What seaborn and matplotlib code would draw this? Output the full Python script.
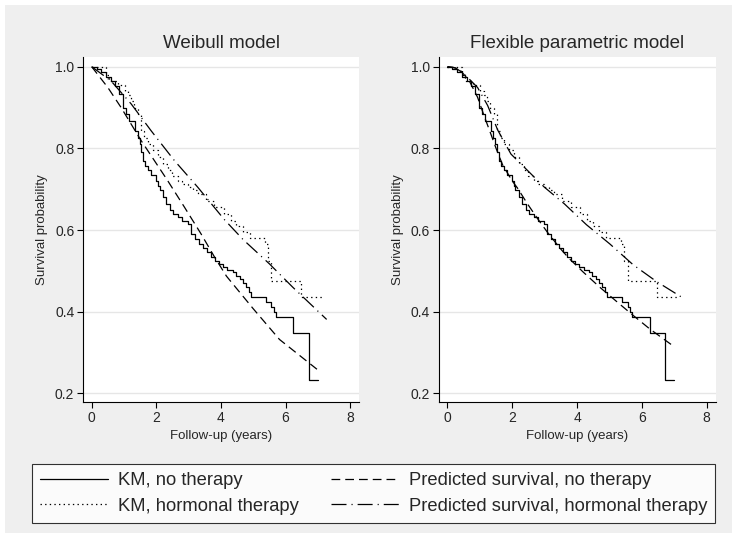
import numpy as np
import pandas as pd
import matplotlib
matplotlib.use('Agg')
import matplotlib.pyplot as plt
from matplotlib.lines import Line2D
from matplotlib.patches import Rectangle
import seaborn as sns

# Kaplan-Meier estimates (step functions)
km_none_t = [0, 0.15, 0.30, 0.45, 0.60, 0.72, 0.86, 0.97, 1.07, 1.17, 1.33, 1.42, 1.48, 1.53,
             1.58, 1.66, 1.74, 1.85, 1.99, 2.05, 2.10, 2.20, 2.30, 2.41, 2.52, 2.66, 2.80, 2.97,
             3.07, 3.20, 3.33, 3.45, 3.57, 3.69, 3.82, 3.94, 4.06, 4.20, 4.37, 4.47, 4.58, 4.68,
             4.78, 4.86, 4.94, 5.40, 5.56, 5.64, 5.71, 6.24, 6.71, 7.0]
km_none_s = [1.0, 0.995, 0.986, 0.975, 0.966, 0.952, 0.933, 0.90, 0.884, 0.868, 0.843, 0.825,
             0.811, 0.79, 0.77, 0.757, 0.746, 0.735, 0.721, 0.708, 0.697, 0.68, 0.664, 0.648,
             0.64, 0.631, 0.623, 0.615, 0.59, 0.578, 0.566, 0.555, 0.545, 0.534, 0.523, 0.516,
             0.509, 0.503, 0.497, 0.488, 0.48, 0.47, 0.46, 0.448, 0.436, 0.424, 0.411, 0.399,
             0.387, 0.348, 0.232, 0.232]

km_horm_t = [0, 0.45, 0.55, 0.80, 1.02, 1.12, 1.22, 1.32, 1.43, 1.53, 1.63, 1.74, 1.90, 2.05,
             2.20, 2.35, 2.50, 2.66, 2.80, 2.97, 3.13, 3.28, 3.55, 3.80, 4.10, 4.30, 4.48, 4.68,
             4.89, 5.35, 5.45, 5.56, 6.48, 7.12]
km_horm_s = [1.0, 0.98, 0.966, 0.955, 0.941, 0.93, 0.917, 0.90, 0.884, 0.843, 0.825, 0.811,
             0.795, 0.778, 0.762, 0.746, 0.733, 0.721, 0.713, 0.705, 0.697, 0.689, 0.672, 0.656,
             0.64, 0.623, 0.611, 0.595, 0.581, 0.566, 0.525, 0.475, 0.437, 0.437]

# Weibull model predictions
wb_none_t = [0, 0.5, 0.91, 1.53, 1.94, 2.35, 2.87, 3.38, 3.8, 4.17, 4.99, 5.81, 6.97]
wb_none_s = [1.0, 0.949, 0.90, 0.819, 0.77, 0.721, 0.656, 0.591, 0.534, 0.487, 0.408, 0.332, 0.259]
wb_horm_t = [0, 0.6, 1.22, 1.84, 2.56, 3.28, 4.1, 4.68, 5.5, 6.22, 7.27]
wb_horm_s = [1.0, 0.965, 0.909, 0.843, 0.77, 0.705, 0.626, 0.577, 0.517, 0.46, 0.381]

# Flexible parametric model predictions
fpm_none_t = [0, 0.2, 0.41, 0.67, 0.93, 1.13, 1.34, 1.5, 1.7, 2.0, 2.16, 2.47, 2.78, 3.09,
              3.5, 3.76, 4.19, 4.7, 5.22, 5.73, 6.24, 7.02]
fpm_none_s = [1.0, 0.998, 0.99, 0.966, 0.925, 0.88, 0.835, 0.80, 0.76, 0.72, 0.703, 0.664,
              0.628, 0.594, 0.553, 0.53, 0.497, 0.46, 0.425, 0.391, 0.358, 0.313]
fpm_horm_t = [0, 0.25, 0.52, 0.93, 1.24, 1.55, 1.96, 2.47, 2.99, 3.61, 4.29, 5.01, 5.73, 6.45, 7.3]
fpm_horm_s = [1.0, 0.997, 0.982, 0.949, 0.905, 0.845, 0.786, 0.746, 0.705, 0.664, 0.613,
              0.566, 0.515, 0.474, 0.432]

titles = ['Weibull model', 'Flexible parametric model']
legend_labels = ['KM, no therapy', 'KM, hormonal therapy',
                 'Predicted survival, no therapy', 'Predicted survival, hormonal therapy']

sns.set_theme(style='white')
plt.rcParams['font.family'] = ['Liberation Sans', 'DejaVu Sans']

ls_solid = '-'
ls_dot = (0, (1.1, 2.6))
ls_dash = (0, (7, 4))
ls_dashdot = (0, (12, 4, 0.9, 4))
lw = 0.9

fig = plt.figure(figsize=(7.37, 5.38), dpi=100)
fig.patch.set_facecolor('white')
fig.patches.append(Rectangle((5/737, 5/538), 727/737, 528/538, transform=fig.transFigure,
                             facecolor='#EFEFEF', edgecolor='none', zorder=-10))

ax1 = fig.add_axes([0.1130, 0.2522, 0.3745, 0.6413])
ax2 = fig.add_axes([0.5957, 0.2522, 0.3754, 0.6413])


def draw(ax, t, s, ls, steps=False):
    sns.lineplot(x=t, y=s, ax=ax, color='black', lw=lw, linestyle=ls,
                 drawstyle='steps-post' if steps else 'default',
                 estimator=None, errorbar=None, sort=False)


models = [(wb_none_t, wb_none_s, wb_horm_t, wb_horm_s),
          (fpm_none_t, fpm_none_s, fpm_horm_t, fpm_horm_s)]

for ax, title, (mn_t, mn_s, mh_t, mh_s) in zip([ax1, ax2], titles, models):
    ax.set_facecolor('white')
    draw(ax, km_none_t, km_none_s, ls_solid, steps=True)
    draw(ax, km_horm_t, km_horm_s, ls_dot, steps=True)
    draw(ax, mn_t, mn_s, ls_dash)
    draw(ax, mh_t, mh_s, ls_dashdot)

    ax.set_xlim(-0.26, 8.28)
    ax.set_ylim(0.178, 1.023)
    ax.set_xticks([0, 2, 4, 6, 8])
    ax.set_yticks([0.2, 0.4, 0.6, 0.8, 1.0])
    ax.set_yticklabels(['0.2', '0.4', '0.6', '0.8', '1.0'])
    ax.yaxis.grid(True, color='#E6E6E6', lw=1.0)
    ax.set_axisbelow(True)
    for side in ['top', 'right']:
        ax.spines[side].set_visible(False)
    for side in ['left', 'bottom']:
        ax.spines[side].set_color('black')
        ax.spines[side].set_linewidth(0.8)
    ax.tick_params(direction='out', length=4.5, width=0.8, color='black',
                   labelsize=10, pad=2, left=True, bottom=True)
    ax.set_title(title, fontsize=13.5, pad=6.5)
    ax.set_xlabel('Follow-up (years)', fontsize=9.5, labelpad=3)
    ax.set_ylabel('Survival probability', fontsize=9.5, labelpad=5)

handles = [Line2D([], [], color='black', lw=lw, linestyle=ls_solid),
           Line2D([], [], color='black', lw=lw, linestyle=ls_dot),
           Line2D([], [], color='black', lw=lw, linestyle=ls_dash),
           Line2D([], [], color='black', lw=lw, linestyle=ls_dashdot)]
leg = fig.legend(handles, legend_labels, ncol=2, loc='center',
                 bbox_to_anchor=(373.5/737, (538 - 493.5)/538), fontsize=13.2,
                 frameon=True, fancybox=False, edgecolor='black', facecolor='white',
                 handlelength=3.7, handletextpad=0.55, columnspacing=1.75,
                 labelspacing=0.45, borderpad=0.45)
leg.get_frame().set_linewidth(0.8)

fig.savefig('out.png', dpi=100, facecolor=fig.get_facecolor())
